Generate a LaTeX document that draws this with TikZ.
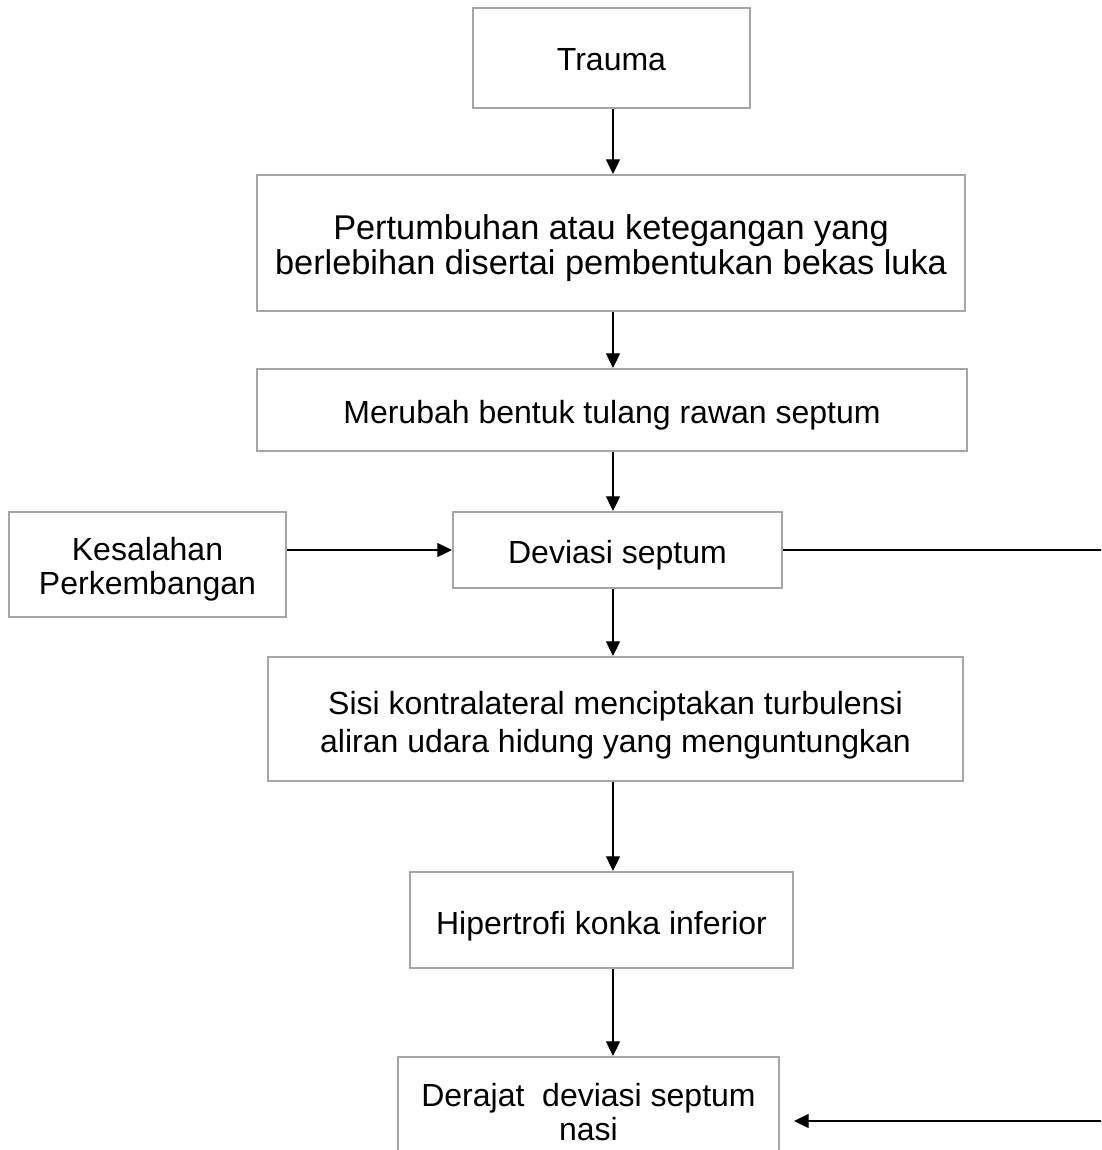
\documentclass[tikz,border=0pt]{standalone}
\usepackage{fontspec}
\setmainfont{Liberation Sans}
\usetikzlibrary{arrows.meta,calc}
\definecolor{boxgray}{RGB}{166,166,166}
\tikzset{
  flowbox/.style={draw=boxgray, line width=1.5pt, fill=white, inner sep=0pt},
  flowtext/.style={align=center, inner sep=0pt, font=\fontsize{24pt}{26pt}\selectfont},
  arr/.style={-{Triangle[length=11pt,width=10.5pt]}, line width=0.9pt, black}
}
\begin{document}
\begin{tikzpicture}[x=0.75pt,y=-0.75pt]
\useasboundingbox (0,0) rectangle (1101,1150);
\clip (0,0) rectangle (1101,1150);
\fill[white] (0,0) rectangle (1101,1150);
% boxes
\node[flowbox, minimum width=207.75pt, minimum height=75pt] (T) at (611.5,58) {};
\node[flowbox, minimum width=531pt, minimum height=102pt] (P) at (611,243) {};
\node[flowbox, minimum width=532.5pt, minimum height=61.5pt] (M) at (612,410) {};
\node[flowbox, minimum width=207.75pt, minimum height=78.75pt] (K) at (147.5,564.5) {};
\node[flowbox, minimum width=246.75pt, minimum height=57pt] (D) at (617.5,550) {};
\node[flowbox, minimum width=521.25pt, minimum height=93pt] (S) at (615.5,719) {};
\node[flowbox, minimum width=287.25pt, minimum height=72pt] (H) at (601.5,920) {};
\node[flowbox, minimum width=285.75pt, minimum height=82.5pt] (R) at (588.5,1112) {};
% texts
\node[flowtext] (Tt) at (611.5,60) {Trauma};
\node[flowtext, font=\fontsize{25.75pt}{26.5pt}\selectfont] (Pt) at (611,248) {Pertumbuhan atau ketegangan yang\\berlebihan disertai pembentukan bekas luka};
\node[flowtext] (Mt) at (612,415) {Merubah bentuk tulang rawan septum};
\node[flowtext, font=\fontsize{24pt}{25.5pt}\selectfont] (Kt) at (147.5,569.5) {Kesalahan\\Perkembangan};
\node[flowtext] (Dt) at (617.5,555) {Deviasi septum};
\node[flowtext, font=\fontsize{24pt}{28.5pt}\selectfont] (St) at (615.5,725) {Sisi kontralateral menciptakan turbulensi\\aliran udara hidung yang menguntungkan};
\node[flowtext] (Ht) at (601.5,926) {Hipertrofi konka inferior};
\node[flowtext, font=\fontsize{24pt}{25pt}\selectfont] (Rt) at (588.5,1112) {Derajat~ deviasi septum\\nasi};
% connectors
\coordinate (col) at (613,0);
\coordinate (c1) at (1130,547);
\coordinate (c2) at (1130,1121);
\draw[arr] (T.south -| col) -- (P.north -| col);
\draw[arr] (P.south -| col) -- (M.north -| col);
\draw[arr] (M.south -| col) -- (D.north -| col);
\draw[arr] (D.south -| col) -- (S.north -| col);
\draw[arr] (S.south -| col) -- (H.north -| col);
\draw[arr] (H.south -| col) -- (R.north -| col);
\draw[arr] (D.west -| K.east) -- (D.west);
\draw[arr, shorten >=10.5pt] (D.east) -- (D.east -| c1) -- (c2) -- (c2 -| R.east);
\end{tikzpicture}
\end{document}
